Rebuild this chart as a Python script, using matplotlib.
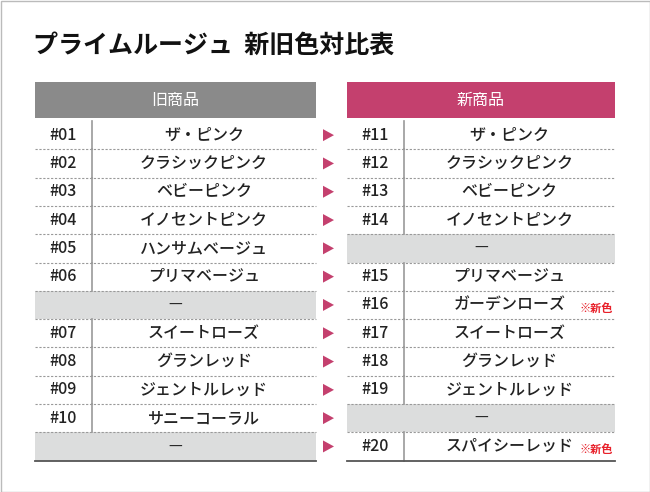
import matplotlib
matplotlib.use("Agg")
import matplotlib.pyplot as plt
from matplotlib.patches import Rectangle, Polygon

plt.rcParams["font.family"] = "Noto Sans CJK JP"

title = "プライムルージュ  新旧色対比表"
old_header = "旧商品"
new_header = "新商品"
old_nums = ["#01","#02","#03","#04","#05","#06","","#07","#08","#09","#10",""]
old_names = ["ザ・ピンク","クラシックピンク","ベビーピンク","イノセントピンク","ハンサムベージュ","プリマベージュ","—","スイートローズ","グランレッド","ジェントルレッド","サニーコーラル","—"]
new_nums = ["#11","#12","#13","#14","","#15","#16","#17","#18","#19","","#20"]
new_names = ["ザ・ピンク","クラシックピンク","ベビーピンク","イノセントピンク","—","プリマベージュ","ガーデンローズ","スイートローズ","グランレッド","ジェントルレッド","—","スパイシーレッド"]
new_flag = [False]*6 + [True] + [False]*4 + [True]
flag_text = "※新色"

W, H = 650, 492
fig = plt.figure(figsize=(W/100, H/100), dpi=100)
ax = fig.add_axes([0, 0, 1, 1])
ax.set_xlim(0, W); ax.set_ylim(H, 0); ax.axis("off")
ax.add_patch(Rectangle((0.5, 0.5), W-1, H-1, fill=False, ec="#bbbbbb", lw=1))
ax.text(33, 46, title, fontsize=18, fontweight="bold", va="center", ha="left", color="#111111")

top, rh = 121, 28.3
def table(x0, x1, xdiv, header, hcol, nums, names, flags=None):
    ax.add_patch(Rectangle((x0, 82), x1-x0, 36, color=hcol, lw=0))
    ax.text((x0+x1)/2, 100, header, color="white", fontsize=11.5, ha="center", va="center")
    n = len(nums)
    for i in range(n):
        y = top + i*rh
        blank = nums[i] == ""
        if blank:
            ax.add_patch(Rectangle((x0, y), x1-x0, rh, color="#dcdddd", lw=0))
            ax.text((x0+x1)/2, y+rh/2, names[i], fontsize=10, ha="center", va="center",
                    color="#222222", family="DejaVu Sans")
        else:
            ax.plot([xdiv, xdiv], [y, y+rh], color="#999999", lw=1.2)
            ax.text((x0+xdiv)/2, y+rh/2, nums[i], fontsize=11.5, fontweight="medium", ha="center", va="center", color="#222222")
            cx = (xdiv+x1)/2
            t = ax.text(cx, y+rh/2, names[i], fontsize=11.5, fontweight="medium", ha="center", va="center", color="#222222")
            if flags and flags[i]:
                ax.text(x1-2, y+rh/2+3, flag_text, fontsize=8, ha="right", va="center", color="#e8202a", fontweight="bold")
        if i < n-1:
            ax.plot([x0, x1], [y+rh, y+rh], color="#999999", lw=0.8, ls=(0, (2, 1.5)))
    yb = top + n*rh
    ax.plot([x0, x1], [yb, yb], color="#555555", lw=1.3)

table(35, 316, 92, old_header, "#8a8a8a", old_nums, old_names)
table(347, 615, 404, new_header, "#c4406e", new_nums, new_names, new_flag)

for i in range(len(old_nums)):
    yc = top + i*rh + rh/2
    ax.add_patch(Polygon([(323, yc-6), (323, yc+6), (334, yc)], color="#c4406e", lw=0))

fig.savefig("out.png", dpi=100)
